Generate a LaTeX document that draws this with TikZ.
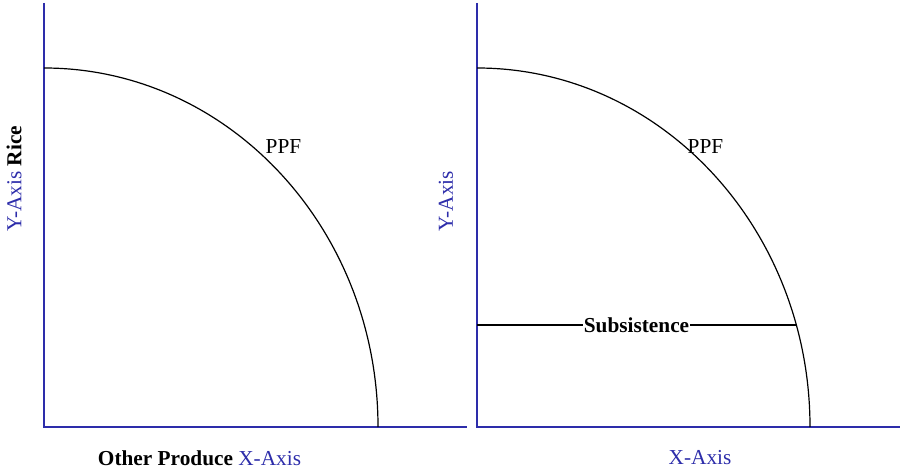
\documentclass[tikz,border=0pt]{standalone}
\usepackage{fontspec}
\setmainfont{Liberation Serif}
\definecolor{axblue}{RGB}{45,45,170}
\begin{document}
\begin{tikzpicture}[x=1pt,y=-1pt,
  axis/.style={axblue, line width=1.5pt},
  ppf/.style={black, line width=1.2pt},
  lbl/.style={font=\fontsize{21.3}{24}\selectfont, inner sep=0pt}]
\useasboundingbox (0,0) rectangle (902,470);
% left panel
\coordinate (ltop) at (44,3);
\coordinate (lo) at (44,427);
\coordinate (lend) at (467,427);
\coordinate (lp0) at (44,68);
\draw[axis] (ltop) -- (lo) -- (lend);
\draw[ppf] (lp0) arc[start angle=-90, end angle=0, x radius=334, y radius=359];
\node[lbl] (lppf) at (283.5,147) {PPF};
\node[lbl, rotate=90] (lylab) at (14,179) {\textcolor{axblue}{Y-Axis} \textbf{Rice}};
\node[lbl] (lxlab) at (199.5,458) {\textbf{Other Produce} \textcolor{axblue}{X-Axis}};
% right panel
\coordinate (rtop) at (477,3);
\coordinate (ro) at (477,427);
\coordinate (rend) at (900,427);
\coordinate (rp0) at (477,68);
\draw[axis] (rtop) -- (ro) -- (rend);
\draw[ppf] (rp0) arc[start angle=-90, end angle=0, x radius=333, y radius=359];
\node[lbl] (rppf) at (705.5,147) {PPF};
\node[lbl, rotate=90, text=axblue] (rylab) at (446,201) {Y-Axis};
\node[lbl, text=axblue] (rxlab) at (700,458) {X-Axis};
\coordinate (s0) at (477,325);
\coordinate (s1) at (796,325);
\draw[black, line width=1.2pt] (s0) -- node[lbl, fill=white, inner xsep=1pt, inner ysep=2pt] (subs) {\textbf{Subsistence}} (s1);
\end{tikzpicture}
\end{document}
